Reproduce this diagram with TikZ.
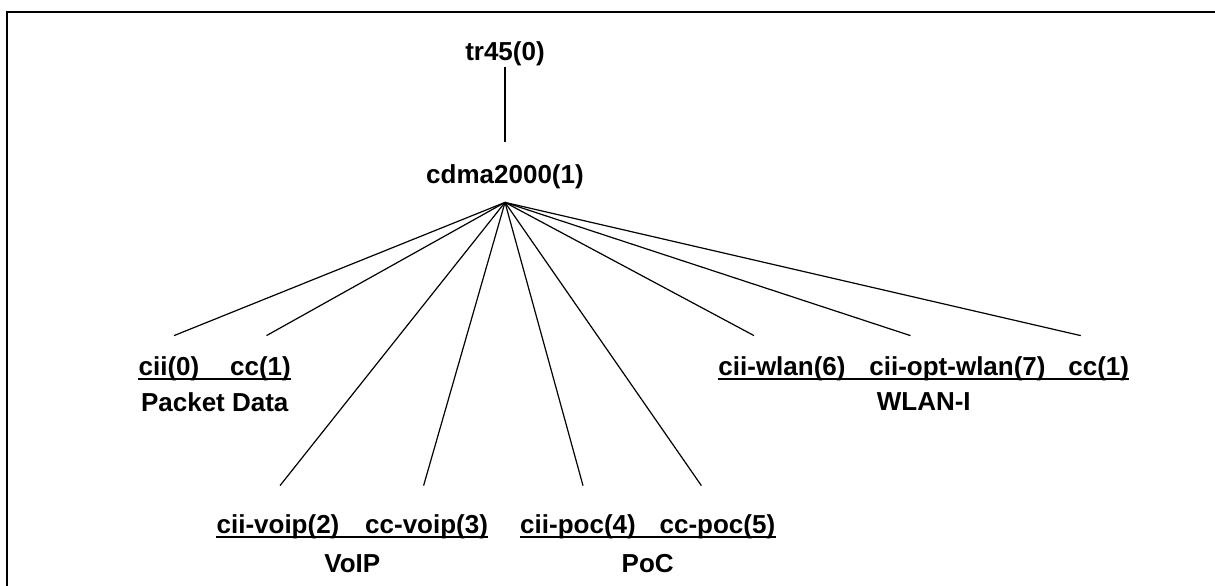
\documentclass[tikz,border=0pt]{standalone}
\usepackage{fontspec}
\setmainfont{Liberation Sans}
\usetikzlibrary{positioning}
\tikzset{
  oid/.style={font=\bfseries\fontsize{13pt}{15pt}\selectfont, inner sep=0pt, anchor=base},
  leaf/.style={oid, text height=19.5pt, text depth=2pt},
  leaflow/.style={leaf, text height=23.5pt},
  grp/.style={oid, anchor=north},
  branch/.style={line width=0.6pt},
  uline/.style={line width=1pt},
}

\begin{document}
\begin{tikzpicture}[x=0.5pt, y=-0.5pt]
\useasboundingbox (0,0) rectangle (1215,585);
% frame, open at right and bottom
\draw[line width=1pt] (7,590) -- (7,12) -- (1220,12);

% root of the tree
\node[oid, text depth=3.5pt] (tr45) at (505,60) {tr45(0)};
\node[oid, text height=20.5pt, text depth=9.5pt] (cdma) at (505,183) {cdma2000(1)};
\draw[branch] (tr45) -- (cdma);

% Packet Data
\node[leaf] (cii0) at (169,375) {cii(0)};
\node[leaf, right=15pt of cii0] (cc1) {cc(1)};
\draw[uline] (cii0.south west) -- node[grp, yshift=-6pt] (pdata) {Packet Data} (cc1.south east);

% VoIP
\node[leaflow] (ciivoip) at (278,533) {cii-voip(2)};
\node[leaflow, right=12.5pt of ciivoip] (ccvoip) {cc-voip(3)};
\draw[uline] (ciivoip.south west) -- node[grp, yshift=-8pt] (voip) {VoIP} (ccvoip.south east);

% PoC
\node[leaflow] (ciipoc) at (578,533) {cii-poc(4)};
\node[leaflow, right=11.5pt of ciipoc] (ccpoc) {cc-poc(5)};
\draw[uline] (ciipoc.south west) -- node[grp, yshift=-8pt] (poc) {PoC} (ccpoc.south east);

% WLAN-I
\node[leaf] (ciiwlan) at (782,375) {cii-wlan(6)};
\node[leaf, right=11.5pt of ciiwlan] (ciioptwlan) {cii-opt-wlan(7)};
\node[leaf, right=11pt of ciioptwlan] (ccwlan) {cc(1)};
\draw[uline] (ciiwlan.south west) -- node[grp, yshift=-6pt] (wlan) {WLAN-I} (ccwlan.south east);

% fan out of cdma2000
\foreach \leaf/\dx in {cii0/2.5, cc1/3, ciivoip/1, ccvoip/-1.5, ciipoc/2.5,
    ccpoc/-8, ciiwlan/-14, ciioptwlan/-23.5, ccwlan/-9}
  \draw[branch] (cdma.south) -- ([xshift=\dx pt]\leaf.north);
\end{tikzpicture}
\end{document}
